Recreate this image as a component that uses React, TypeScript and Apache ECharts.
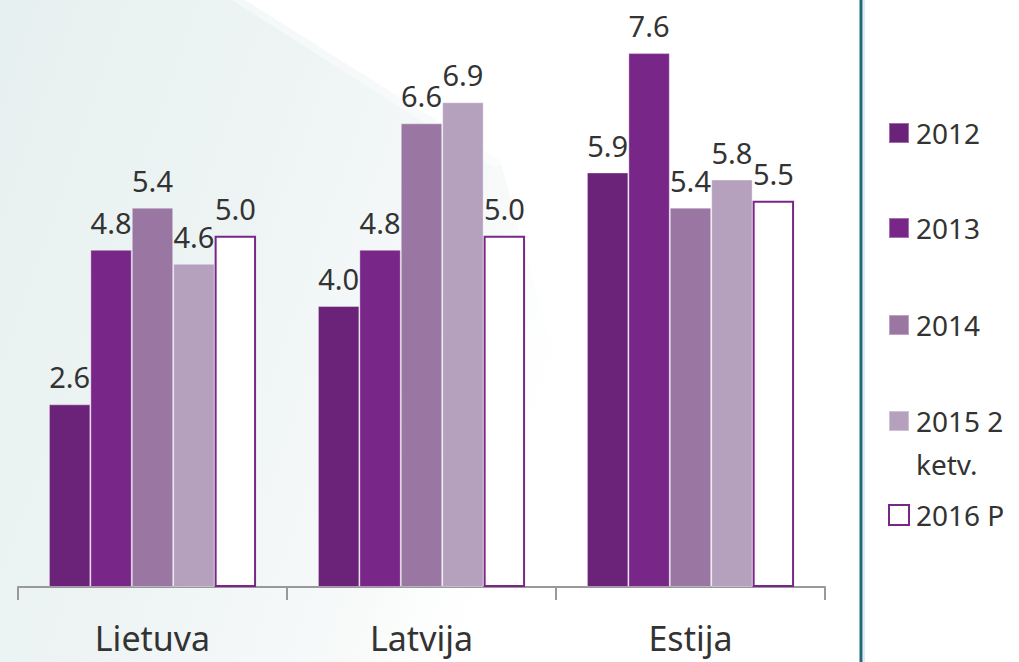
import React, { useEffect, useRef } from "react";
import * as echarts from "echarts";

const categories = ["Lietuva", "Latvija", "Estija"];
const seriesNames = ["2012", "2013", "2014", "2015 2 ketv.", "2016 P"];
const values2012 = [2.6, 4.0, 5.9];
const values2013 = [4.8, 4.8, 7.6];
const values2014 = [5.4, 6.6, 5.4];
const values2015 = [4.6, 6.9, 5.8];
const values2016 = [5.0, 5.0, 5.5];
const seriesValues = [values2012, values2013, values2014, values2015, values2016];
const colors = ["#6b2279", "#782788", "#9a77a3", "#b5a1be", "#ffffff"];

const FONT = "Noto Sans";

export default function App() {
  const ref = useRef<HTMLDivElement>(null);
  useEffect(() => {
    if (!ref.current) return;
    const chart = echarts.init(ref.current, null, { renderer: "svg" });

    const series = seriesNames.map((name, i) => ({
      name,
      type: "bar",
      data: seriesValues[i],
      barGap: "0%",
      barCategoryGap: "23%",
      itemStyle:
        i === 4
          ? { color: "#ffffff", borderColor: "#7a2688", borderWidth: 2 }
          : { color: colors[i], borderColor: "rgba(255,255,255,0.35)", borderWidth: 1 },
      label: {
        show: true,
        position: "top",
        distance: 13,
        fontFamily: FONT,
        fontSize: 29,
        color: "#333333",
        formatter: (p: any) => Number(p.value).toFixed(1),
      },
    }));

    const legendTops = [116, 211, 308, 404, 498];
    const legends = seriesNames.map((name, i) => ({
      data: [name],
      orient: "vertical",
      left: 888,
      top: legendTops[i],
      padding: 0,
      itemWidth: 20,
      itemHeight: 20,
      icon: "rect",
      selectedMode: false,
      formatter: (n: string) => (n === "2015 2 ketv." ? "2015 2" : n),
      textStyle: {
        fontFamily: FONT,
        fontSize: 28,
        color: "#333333",
        lineHeight: 34,
        padding: [0, 0, 0, 2],
      },
    }));

    chart.setOption({
      animation: false,
      backgroundColor: "#ffffff",
      graphic: [
        {
          type: "polygon",
          z: -10,
          silent: true,
          shape: {
            points: [
              [0, 0],
              [245, 0],
              [500, 160],
              [640, 662],
              [0, 662],
            ],
          },
          style: {
            fill: {
              type: "linear",
              x: 0,
              y: 0,
              x2: 1,
              y2: 0.35,
              colorStops: [
                { offset: 0, color: "#e7f0f0" },
                { offset: 0.45, color: "#eef4f4" },
                { offset: 0.8, color: "#f8fafa" },
                { offset: 1, color: "rgba(255,255,255,0)" },
              ],
            },
          },
        },
        {
          type: "polygon",
          z: -9,
          silent: true,
          shape: {
            points: [
              [232, 0],
              [262, 0],
              [510, 160],
              [495, 168],
            ],
          },
          style: { fill: "rgba(255,255,255,0.45)" },
        },
        {
          type: "text",
          left: 916,
          top: 450,
          silent: true,
          style: {
            text: "ketv.",
            fontFamily: FONT,
            fontSize: 28,
            fill: "#333333",
          },
        },
        {
          type: "line",
          z: 10,
          silent: true,
          shape: { x1: 861, y1: 0, x2: 861, y2: 662 },
          style: { stroke: "#1d6d78", lineWidth: 3 },
        },
        {
          type: "line",
          z: 10,
          silent: true,
          shape: { x1: 864, y1: 0, x2: 864, y2: 662 },
          style: { stroke: "#d5e7e9", lineWidth: 1.5 },
        },
      ],
      legend: legends,
      grid: { left: 18, right: 194, top: 25, bottom: 75 },
      xAxis: {
        type: "category",
        data: categories,
        axisLine: { lineStyle: { color: "#999999", width: 2 } },
        axisTick: { show: true, length: 13, lineStyle: { color: "#999999", width: 2 } },
        axisLabel: { fontFamily: FONT, fontSize: 34, color: "#333333", margin: 34 },
      },
      yAxis: {
        type: "value",
        min: 0,
        max: 8,
        show: false,
        splitLine: { show: false },
      },
      series,
    });
    return () => chart.dispose();
  }, []);
  return (
    <div
      ref={ref}
      style={{ position: "absolute", left: 0, top: 0, width: 1019, height: 662 }}
    />
  );
}
